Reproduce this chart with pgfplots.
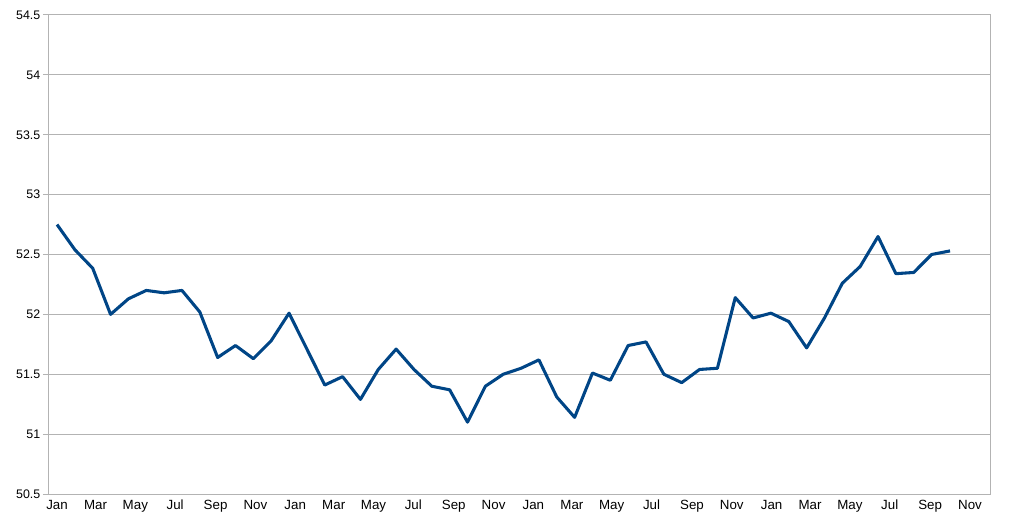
\documentclass[border=0pt]{standalone}
\usepackage{pgfplots}
\pgfplotsset{compat=1.18}
\usepackage{fontspec}
\setmainfont{Liberation Sans}
\definecolor{series}{HTML}{004586}
\definecolor{gridc}{HTML}{B3B3B3}
\begin{document}
\begin{tikzpicture}
\begin{axis}[name=ax, scale only axis, width=705.75pt, height=359.25pt,
 xmin=-12.3, xmax=1429.7, ymin=50.5, ymax=54.5,
 ytick={50.5,51,51.5,52,52.5,53,53.5,54,54.5},
 xtick={0,59,120,181,243,304,365,424,485,546,608,669,730,789,850,911,973,1034,1095,1154,1215,1276,1338,1399},
 xticklabels={Jan,Mar,May,Jul,Sep,Nov,Jan,Mar,May,Jul,Sep,Nov,Jan,Mar,May,Jul,Sep,Nov,Jan,Mar,May,Jul,Sep,Nov},
 ymajorgrids, grid style={gridc, line width=0.75pt},
 axis line style={gridc, line width=0.75pt},
 tick align=outside, ytick pos=left, xtick pos=bottom,
 xtick style={draw=none},
 major tick length=4.5pt, ytick style={gridc, line width=0.75pt},
 yticklabel style={font=\fontsize{9.3}{11}\selectfont, text=black, xshift=1.5pt},
 xticklabel style={font=\fontsize{10}{12}\selectfont, text=black, inner sep=2pt, yshift=2.5pt, text height=0.72em, text depth=0.21em},
 /pgf/number format/assume math mode=true,
 clip=false,
]
\addplot[series, line width=2.3pt, line join=round, no markers] table {
x y
0 52.75
27.35 52.54
54.7 52.385
82.05 52.00
109.4 52.13
136.75 52.20
164.1 52.18
191.45 52.20
218.8 52.02
246.15 51.64
273.5 51.74
300.85 51.63
328.2 51.78
355.55 52.01
382.9 51.71
410.25 51.41
437.6 51.48
464.95 51.29
492.3 51.54
519.65 51.71
547 51.54
574.35 51.40
601.7 51.37
629.05 51.10
656.4 51.40
683.75 51.50
711.1 51.55
738.45 51.62
765.8 51.31
793.15 51.14
820.5 51.51
847.85 51.45
875.2 51.74
902.55 51.77
929.9 51.50
957.25 51.43
984.6 51.54
1011.95 51.55
1039.3 52.14
1066.65 51.97
1094 52.01
1121.35 51.94
1148.7 51.72
1176.05 51.97
1203.4 52.26
1230.75 52.40
1258.1 52.65
1285.45 52.34
1312.8 52.35
1340.15 52.50
1368.5 52.53
};
\end{axis}
\pgfresetboundingbox
\path ([xshift=-36.75pt,yshift=-23.25pt]ax.south west) rectangle ([xshift=24.75pt,yshift=11.25pt]ax.north east);
\end{tikzpicture}
\end{document}
